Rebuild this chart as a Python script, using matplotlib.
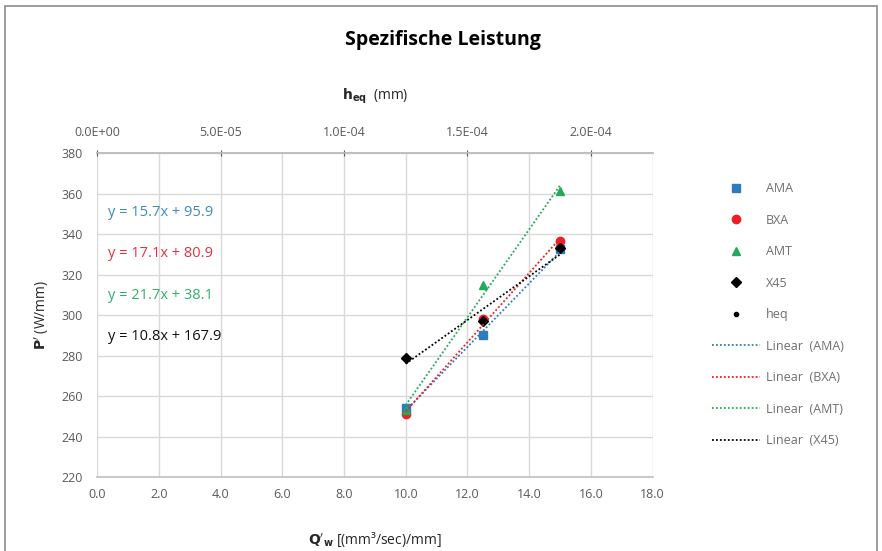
import numpy as np
import matplotlib
matplotlib.use("Agg")
import matplotlib.pyplot as plt
from matplotlib.lines import Line2D
from matplotlib.patches import Rectangle

# -------------------------
# Data
# -------------------------
q_w = [10.0, 12.5, 15.0]
ama = [254.0, 290.0, 332.5]
bxa = [251.0, 298.0, 336.5]
amt = [253.0, 315.0, 361.5]
x45 = [279.0, 297.0, 333.0]
h_eq = [1.25e-4, 1.5625e-4, 1.875e-4]

series_names = ["AMA", "BXA", "AMT", "X45"]
series_values = [ama, bxa, amt, x45]
series_colors = ["#2E7BC0", "#F01E23", "#22A95A", "#000000"]
series_markers = ["s", "o", "^", "D"]
equations = ["y = 15.7x + 95.9", "y = 17.1x + 80.9",
             "y = 21.7x + 38.1", "y = 10.8x + 167.9"]
eq_colors = ["#3C88C8", "#E8303C", "#2EB06A", "#111111"]

x_ticks = np.arange(0, 18.1, 2)
y_ticks = np.arange(220, 381, 20)
top_ticks = [0.0, 5e-5, 1e-4, 1.5e-4, 2e-4]
top_labels = ["0.0E+00", "5.0E-05", "1.0E-04", "1.5E-04", "2.0E-04"]

plt.rcParams['font.family'] = ['Open Sans', 'DejaVu Sans']
grey = "#595959"

fig = plt.figure(figsize=(8.82, 5.51), dpi=100)
fig.patches.append(Rectangle((0.006, -0.01), 0.988, 1.0, transform=fig.transFigure,
                             fill=False, edgecolor="#8C8C8C", linewidth=1.2))

ax = fig.add_axes([0.110, 0.134, 0.630, 0.588])

# markers
for name, vals, col, mk in zip(series_names, series_values, series_colors, series_markers):
    ms = 6 if mk != "D" else 5.5
    ax.plot(q_w, vals, linestyle="none", marker=mk, color=col, markersize=ms,
            label=name, zorder=3)

# linear trendlines
for vals, col in zip(series_values, series_colors):
    k, d = np.polyfit(q_w, vals, 1)
    xs = np.array([q_w[0], q_w[-1]])
    ax.plot(xs, k * xs + d, linestyle=(0, (1.0, 1.2)), color=col, linewidth=1.3, zorder=4)

ax.set_xlim(0, 18)
ax.set_ylim(220, 380)
ax.set_xticks(x_ticks)
ax.set_xticklabels([f"{v:.1f}" for v in x_ticks])
ax.set_yticks(y_ticks)
ax.grid(True, color="#D9D9D9", linewidth=1)
ax.set_axisbelow(True)
ax.tick_params(axis="both", colors=grey, labelsize=9, length=0)
ax.tick_params(axis="x", pad=8)
ax.tick_params(axis="y", pad=10)
for s in ["left", "right"]:
    ax.spines[s].set_visible(False)
for s in ["top", "bottom"]:
    ax.spines[s].set_color("#BFBFBF")
    ax.spines[s].set_linewidth(1.2)

ax.set_xlabel(r"$\mathbf{Q'_w}$ [(mm³/sec)/mm]", fontsize=10, color="#262626", labelpad=21)
ax.set_ylabel(r"$\mathbf{P'}$ (W/mm)", fontsize=10, color="#262626", labelpad=8)

# secondary x axis (h_eq)
ax2 = ax.twiny()
ax2.set_xlim(0, 2.25e-4)
ax2.set_xticks(top_ticks)
ax2.set_xticklabels(top_labels)
ax2.tick_params(axis="x", colors=grey, labelsize=9, length=5, direction="inout", pad=8)
ax2.plot(h_eq, x45, linestyle="none", marker="o", color="black", markersize=2.5, label="heq")
ax2.set_ylim(220, 380)
for s in ["left", "right", "bottom"]:
    ax2.spines[s].set_visible(False)
ax2.spines["top"].set_color("#BFBFBF")
ax2.spines["top"].set_linewidth(1.2)
ax2.set_xlabel(r"$\mathbf{h_{eq}}$  (mm)", fontsize=10, color="#262626", labelpad=19)

# equation labels
for i, (txt, col) in enumerate(zip(equations, eq_colors)):
    ax.text(0.02, 0.816 - i * 0.127, txt, transform=ax.transAxes, color=col,
            fontsize=10.5, va="center", ha="left")

fig.suptitle("Spezifische Leistung", fontsize=14, fontweight="bold", y=0.945, x=0.502)

# legend
handles = []
for name, col, mk in zip(series_names, series_colors, series_markers):
    handles.append(Line2D([], [], linestyle="none", marker=mk, color=col,
                          markersize=6 if mk != "D" else 5.5, label=name))
handles.append(Line2D([], [], linestyle="none", marker="o", color="black",
                      markersize=3, label="heq"))
for name, col in zip(series_names, series_colors):
    handles.append(Line2D([], [], linestyle=(0, (1.0, 1.2)), color=col, linewidth=1.3,
                          label=f"Linear  ({name})"))

leg = fig.legend(handles=handles, loc="upper left", bbox_to_anchor=(0.795, 0.690),
                 frameon=False, fontsize=9, labelspacing=1.48, handlelength=3.8,
                 handletextpad=0.5)
for t in leg.get_texts():
    t.set_color("#6E6E6E")

fig.savefig("out.png", dpi=100)
